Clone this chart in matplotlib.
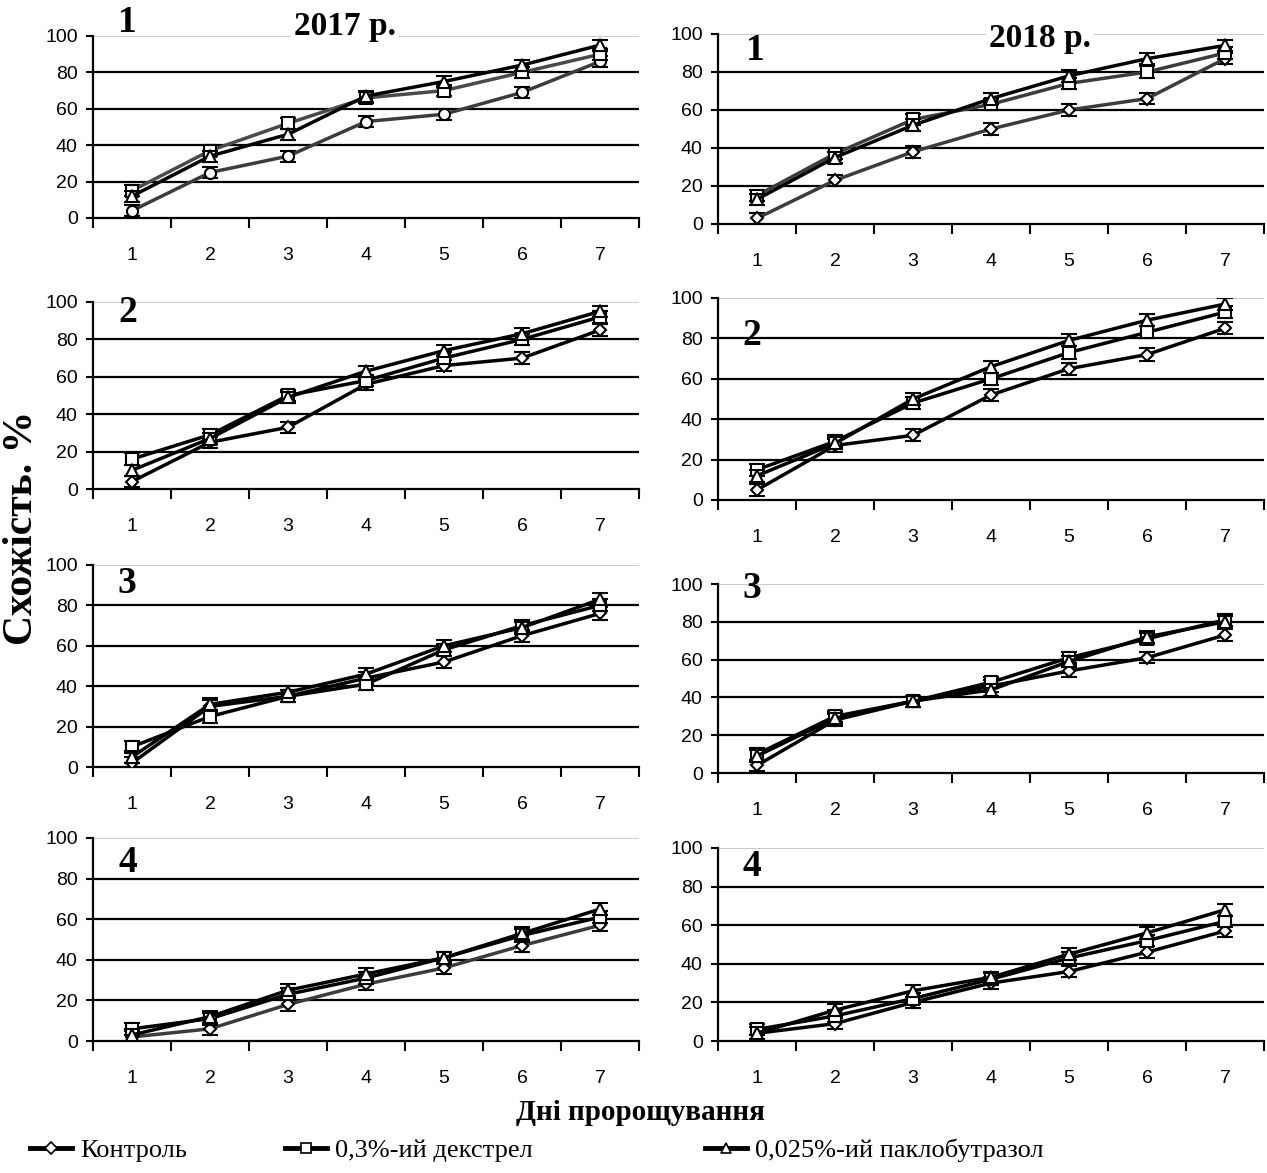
import matplotlib
matplotlib.use("Agg")
import matplotlib.pyplot as plt
from matplotlib.lines import Line2D

days = ["1", "2", "3", "4", "5", "6", "7"]
years = ["2017 р.", "2018 р."]
series_names = ["Контроль", "0,3%-ий декстрел", "0,025%-ий паклобутразол"]

# panel 1..4, 2017 / 2018 : control, dextrel, paclobutrazol
p1_2017_control = [4, 25, 34, 53, 57, 69, 86]
p1_2017_dextrel = [15, 37, 52, 66, 70, 80, 90]
p1_2017_paclo = [12, 34, 46, 67, 75, 84, 95]
p1_2018_control = [3, 23, 38, 50, 60, 66, 87]
p1_2018_dextrel = [15, 37, 55, 63, 74, 80, 90]
p1_2018_paclo = [13, 35, 52, 66, 78, 87, 94]

p2_2017_control = [4, 25, 33, 56, 66, 70, 85]
p2_2017_dextrel = [16, 29, 50, 58, 70, 80, 92]
p2_2017_paclo = [10, 27, 49, 63, 74, 83, 95]
p2_2018_control = [5, 27, 32, 52, 65, 72, 85]
p2_2018_dextrel = [15, 29, 48, 60, 73, 83, 93]
p2_2018_paclo = [12, 28, 50, 66, 79, 89, 97]

p3_2017_control = [2, 30, 35, 44, 52, 65, 76]
p3_2017_dextrel = [10, 25, 35, 41, 58, 70, 80]
p3_2017_paclo = [5, 31, 37, 46, 60, 69, 83]
p3_2018_control = [4, 28, 38, 46, 54, 61, 73]
p3_2018_dextrel = [10, 30, 38, 48, 61, 71, 81]
p3_2018_paclo = [9, 29, 38, 44, 59, 72, 80]

p4_2017_control = [2, 6, 18, 28, 36, 47, 57]
p4_2017_dextrel = [6, 11, 23, 31, 41, 52, 61]
p4_2017_paclo = [3, 12, 25, 33, 41, 53, 65]
p4_2018_control = [4, 9, 20, 30, 36, 46, 57]
p4_2018_dextrel = [6, 13, 22, 32, 43, 52, 62]
p4_2018_paclo = [4, 16, 26, 33, 45, 56, 68]

err = 3

panels = [
    [(p1_2017_control, p1_2017_dextrel, p1_2017_paclo), (p1_2018_control, p1_2018_dextrel, p1_2018_paclo)],
    [(p2_2017_control, p2_2017_dextrel, p2_2017_paclo), (p2_2018_control, p2_2018_dextrel, p2_2018_paclo)],
    [(p3_2017_control, p3_2017_dextrel, p3_2017_paclo), (p3_2018_control, p3_2018_dextrel, p3_2018_paclo)],
    [(p4_2017_control, p4_2017_dextrel, p4_2017_paclo), (p4_2018_control, p4_2018_dextrel, p4_2018_paclo)],
]

# line colours per panel (control, dextrel, paclo)
colors = [
    [("#3c3c3c", "#4a4a4a", "black"), ("#3c3c3c", "#3c3c3c", "black")],
    [("black", "black", "black"), ("black", "black", "black")],
    [("black", "black", "black"), ("black", "black", "black")],
    [("#3c3c3c", "black", "black"), ("black", "black", "black")],
]

# axes rectangles in pixels: (x0, y_top, y_bottom)
W, H = 1267, 1173
rects = [
    [(93, 36, 218), (718, 34, 224)],
    [(93, 302, 489), (718, 298, 500)],
    [(93, 565, 767), (718, 584, 773)],
    [(93, 838, 1041), (718, 848, 1041)],
]
num_pos = [
    [(127, 22), (755, 50)],
    [(128, 312), (752, 335)],
    [(127, 583), (752, 588)],
    [(128, 862), (752, 866)],
]

serif = "Liberation Serif"
sans = "Liberation Sans"

fig = plt.figure(figsize=(W / 100, H / 100), dpi=100)

for r in range(4):
    for c in range(2):
        x0, yt, yb = rects[r][c]
        ax = fig.add_axes([x0 / W, 1 - yb / H, 546 / W, (yb - yt) / H])
        xs = range(len(days))
        markers = ["o" if (r == 0 and c == 0) else "D", "s", "^"]
        msizes = [8 if (r == 0 and c == 0) else 6.5, 8, 9]
        for k, vals in enumerate(panels[r][c]):
            ax.errorbar(xs, vals, yerr=err, color=colors[r][c][k], lw=2.5,
                        marker=markers[k], ms=msizes[k], mfc="white", mec="black",
                        mew=1.5, ecolor="black", elinewidth=1.5, capsize=6,
                        capthick=1.5, zorder=3 + k)
        ax.set_xlim(-0.5, 6.5)
        ax.set_ylim(0, 100)
        ax.set_yticks([0, 20, 40, 60, 80, 100])
        for g in [20, 40, 60, 80]:
            ax.axhline(g, color="black", lw=1.6, zorder=1)
        ax.axhline(100, color="#c0c0c0", lw=1.2, zorder=1)
        ax.set_xticks(range(7))
        ax.set_xticklabels(days)
        ax.set_xticks([i - 0.5 for i in range(8)], minor=True)
        ax.tick_params(axis="x", which="major", length=0, pad=21, labelsize=14)
        ax.tick_params(axis="x", which="minor", length=7, width=1.5, direction="out")
        ax.tick_params(axis="y", length=5, width=1.5, pad=6, labelsize=14)
        for lab in ax.get_xticklabels() + ax.get_yticklabels():
            lab.set_fontfamily(sans)
        for s in ["top", "right"]:
            ax.spines[s].set_visible(False)
        ax.spines["left"].set_linewidth(1.6)
        ax.spines["bottom"].set_linewidth(1.6)
        ax.spines["left"].set_zorder(2)
        nx, ny = num_pos[r][c]
        fig.text(nx / W, 1 - ny / H, str(r + 1), fontfamily=serif, fontweight="bold",
                 fontsize=27, ha="center", va="center")

fig.text(345 / W, 1 - 27 / H, years[0], fontfamily=serif, fontweight="bold", fontsize=24,
         ha="center", va="center", bbox=dict(fc="white", ec="none", pad=2))
fig.text(1040 / W, 1 - 38 / H, years[1], fontfamily=serif, fontweight="bold", fontsize=24,
         ha="center", va="center", bbox=dict(fc="white", ec="none", pad=2))

fig.text(22 / W, 1 - 528 / H, "Схожість. %", fontfamily=serif, fontweight="bold",
         fontsize=30, rotation=90, ha="center", va="center")
fig.text(640 / W, 1 - 1112 / H, "Дні пророщування", fontfamily=serif, fontweight="bold",
         fontsize=21, ha="center", va="center")

leg_x = [30, 285, 705]
leg_markers = ["D", "s", "^"]
for k in range(3):
    h = Line2D([], [], color="black", lw=3.5, marker=leg_markers[k], ms=6 if k == 0 else 7,
               mfc="white", mec="black", mew=1.2)
    fig.legend([h], [series_names[k]], loc="center left",
               bbox_to_anchor=(leg_x[k] / W, 1 - 1150 / H), frameon=False,
               handlelength=1.6, handletextpad=0.3, borderaxespad=0, borderpad=0,
               prop={"family": serif, "size": 19})

fig.savefig("out.png", dpi=100)
